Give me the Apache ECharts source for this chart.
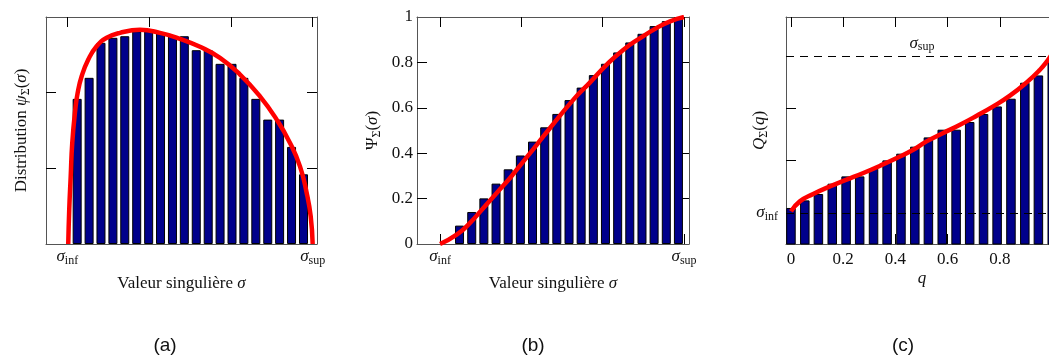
<!DOCTYPE html>
<html>
<head>
<meta charset="utf-8">
<script src="https://cdn.jsdelivr.net/npm/echarts@6/dist/echarts.min.js"></script>
<style>html,body{margin:0;padding:0;background:#fff;}#c{width:1049px;height:359px;}</style>
</head>
<body>
<div id="c"></div>
<script>
// ---------- data ----------
// Panel (a): histogram of singular values (sigma axis: sigma_inf = 0, sigma_sup = 3)
const aBinCenters = [0.121,0.267,0.412,0.558,0.703,0.849,0.995,1.140,1.286,1.431,1.577,1.723,1.868,2.014,2.159,2.305,2.451,2.596,2.742,2.888];
const aBarValues  = [1.918,2.196,2.659,2.725,2.746,2.812,2.812,2.791,2.746,2.746,2.561,2.561,2.381,2.381,2.196,1.918,1.644,1.644,1.283,0.921];
const aCurveX = [0.012,0.024,0.042,0.061,0.098,0.127,0.176,0.257,0.359,0.482,0.644,0.889,1.133,1.378,1.623,1.867,2.112,2.356,2.560,2.723,2.845,2.927,2.976,3.0];
const aCurveY = [0,0.454,0.894,1.336,1.776,1.997,2.217,2.438,2.614,2.725,2.791,2.83,2.79,2.712,2.606,2.460,2.239,1.952,1.644,1.336,1.026,0.675,0.365,0];

// Panel (b): cumulative distribution
const bBinCenters = [0.240,0.390,0.539,0.689,0.838,0.988,1.137,1.287,1.436,1.586,1.735,1.885,2.034,2.184,2.333,2.483,2.632,2.782,2.931];
const bBarValues  = [0.081,0.141,0.201,0.266,0.329,0.390,0.451,0.514,0.573,0.634,0.689,0.744,0.794,0.844,0.888,0.926,0.960,0.982,1.0];
const bCurveX = [0,0.205,0.369,0.533,0.697,0.861,1.025,1.189,1.353,1.640,1.845,2.050,2.255,2.460,2.665,2.829,3.0];
const bCurveY = [0,0.041,0.093,0.159,0.225,0.291,0.364,0.437,0.511,0.636,0.712,0.790,0.856,0.907,0.952,0.981,1.0];

// Panel (c): quantile function (sigma axis: sigma_inf = 1, sigma_sup = 4)
const cQ = [0,0.053,0.105,0.158,0.211,0.263,0.316,0.368,0.421,0.474,0.526,0.579,0.632,0.684,0.737,0.789,0.842,0.895,0.947,1.0];
const cBarValues = [1.096,1.241,1.363,1.560,1.700,1.700,1.847,2.006,2.134,2.268,2.446,2.593,2.593,2.740,2.893,3.038,3.185,3.491,3.631,3.90];
const cCurveX = [0,0.034,0.085,0.149,0.213,0.277,0.341,0.405,0.468,0.519,0.583,0.647,0.711,0.774,0.838,0.902,0.953,0.98,1.0];
const cCurveY = [1.03,1.222,1.363,1.509,1.637,1.765,1.904,2.052,2.21,2.369,2.530,2.688,2.860,3.038,3.243,3.497,3.740,3.9,4.05];

// tick positions / labels
const sigmaTicks = [0,1,2,3];
const sigmaLabelTicks = [0,3];
const aYTicks = [1,2];
const bYTicks = [0,0.2,0.4,0.6,0.8,1];
const bYTickMarks = [0.2,0.4,0.6,0.8];
const cXTicks = [0,0.2,0.4,0.6,0.8,1];
const cYTicks = [2,3];
const cSigmaInf = 1, cSigmaSup = 4;
const captions = ['(a)','(b)','(c)'];
const xTitleA = 'Valeur singulière ';

// ---------- styling ----------
const SERIF = 'Liberation Serif';
const TXT = '#111';
const rich = {
  n: {fontFamily: SERIF, fontSize: 17, color: TXT},
  i: {fontFamily: SERIF, fontSize: 17, fontStyle: 'italic', color: TXT},
  s: {fontFamily: SERIF, fontSize: 12, color: TXT, padding: [8,0,0,0]}
};
const BAR = '#00008b';
const RED = '#ff0000';
const FRAME = {show: true, onZero: false, lineStyle: {color: '#555', width: 1}};
const TICK = (vals) => ({show: true, inside: true, length: 10, lineStyle: {color: '#000', width: 1}, customValues: vals});
const zip = (xs, ys) => xs.map((x, k) => [x, ys[k]]);
const sigmaFmt = v => v === sigmaLabelTicks[0] ? '{i|σ}{s|inf}' : '{i|σ}{s|sup}';

const gridBase = {containLabel: false, outerBoundsMode: 'none', top: 17, height: 227};
const grids = [
  Object.assign({left: 46, width: 271}, gridBase),
  Object.assign({left: 417, width: 272}, gridBase),
  Object.assign({left: 786, width: 272}, gridBase)
];

function xPair(gi, min, max, ticks, labelOpt, nameOpt) {
  const bottom = Object.assign({
    type: 'value', gridIndex: gi, min, max, position: 'bottom',
    axisLine: FRAME, axisTick: TICK(ticks), splitLine: {show: false}
  }, labelOpt, nameOpt);
  const top = {
    type: 'value', gridIndex: gi, min, max, position: 'top',
    axisLine: FRAME, axisTick: TICK(ticks), axisLabel: {show: false}, splitLine: {show: false}
  };
  return [bottom, top];
}
function yPair(gi, min, max, ticks, labelOpt, nameOpt) {
  const left = Object.assign({
    type: 'value', gridIndex: gi, min, max, position: 'left',
    axisLine: FRAME, axisTick: TICK(ticks), splitLine: {show: false}
  }, labelOpt, nameOpt);
  const right = {
    type: 'value', gridIndex: gi, min, max, position: 'right',
    axisLine: FRAME, axisTick: TICK(ticks), axisLabel: {show: false}, splitLine: {show: false}
  };
  return [left, right];
}

const xAxis = [
  ...xPair(0, -0.26, 3.053, sigmaTicks,
    {axisLabel: {show: true, customValues: sigmaLabelTicks, formatter: sigmaFmt, rich, margin: 3}},
    {name: '{n|' + xTitleA + '}{i|σ}', nameLocation: 'middle', nameGap: 31, nameTextStyle: {rich}}),
  ...xPair(1, -0.283, 3.061, sigmaTicks,
    {axisLabel: {show: true, customValues: sigmaLabelTicks, formatter: sigmaFmt, rich, margin: 3}},
    {name: '{n|' + xTitleA + '}{i|σ}', nameLocation: 'middle', nameGap: 31, nameTextStyle: {rich}}),
  ...xPair(2, -0.019, 1.022, cXTicks,
    {axisLabel: {show: true, customValues: cXTicks, fontFamily: SERIF, fontSize: 17, color: TXT, margin: 7}},
    {name: '{i|q}', nameLocation: 'middle', nameGap: 26, nameMoveOverlap: false, nameTextStyle: {rich}})
];
const yAxis = [
  ...yPair(0, 0, 3, aYTicks, {axisLabel: {show: false}},
    {name: '{n|Distribution }{i|ψ}{s|Σ}{n|(}{i|σ}{n|)}', nameLocation: 'middle', nameGap: 14, nameTextStyle: {rich}}),
  ...yPair(1, 0, 1, bYTickMarks,
    {axisLabel: {show: true, customValues: bYTicks, fontFamily: SERIF, fontSize: 17, color: TXT, margin: 4}},
    {name: '{n|Ψ}{s|Σ}{n|(}{i|σ}{n|)}', nameLocation: 'middle', nameGap: 34, nameTextStyle: {rich}}),
  ...yPair(2, 0.407, 4.748, cYTicks,
    {axisLabel: {show: true, customValues: [cSigmaInf], formatter: () => '{i|σ}{s|inf}', rich, margin: 8}},
    {name: '{i|Q}{s|Σ}{n|(}{i|q}{n|)}', nameLocation: 'middle', nameGap: 16, nameMoveOverlap: false, nameTextStyle: {rich}})
];

const barStyle = {color: BAR, borderColor: '#000', borderWidth: 1};
const barSeries = (xi, yi, data, w) => ({
  type: 'bar', xAxisIndex: xi, yAxisIndex: yi, data, barWidth: w, itemStyle: barStyle,
  silent: true, clip: true, z: 1
});
const lineSeries = (xi, yi, data) => ({
  type: 'line', xAxisIndex: xi, yAxisIndex: yi, data, smooth: 0.5,
  symbol: 'none', showSymbol: false, lineStyle: {color: RED, width: 4.5},
  z: 20, silent: true
});

const cBars = barSeries(4, 4, zip(cQ, cBarValues), 9.5);
cBars.markLine = {
  silent: true, symbol: 'none',
  lineStyle: {color: '#000', width: 1, type: [8, 6]},
  data: [
    {yAxis: cSigmaInf, label: {show: false}},
    {yAxis: cSigmaSup, label: {show: true, position: 'insideMiddleTop', distance: 3, formatter: '{i|σ}{s|sup}', rich}}
  ]
};

const option = {
  animation: false,
  backgroundColor: '#fff',
  grid: grids,
  xAxis, yAxis,
  series: [
    barSeries(0, 0, zip(aBinCenters, aBarValues), 9),
    lineSeries(0, 0, zip(aCurveX, aCurveY)),
    barSeries(2, 2, zip(bBinCenters, bBarValues), 9),
    lineSeries(2, 2, zip(bCurveX, bCurveY)),
    cBars,
    lineSeries(4, 4, zip(cCurveX, cCurveY))
  ],
  graphic: captions.map((t, k) => ({
    type: 'text', x: [165, 533, 903][k], y: 346,
    style: {text: t, font: '19px "Liberation Sans"', fill: '#111', align: 'center', verticalAlign: 'middle'}
  }))
};

const chart = echarts.init(document.getElementById('c'), null, {renderer: 'canvas'});
chart.setOption(option);
</script>
</body>
</html>
